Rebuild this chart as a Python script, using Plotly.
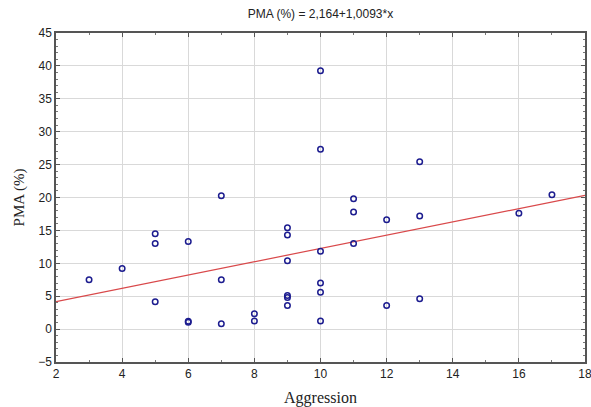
import plotly.graph_objects as go

aggression = [3, 4, 5, 5, 5, 6, 6, 6, 7, 7, 7, 8, 8,
              9, 9, 9, 9, 9, 9, 10, 10, 10, 10, 10, 10,
              11, 11, 11, 12, 12, 13, 13, 13, 16, 17]
pma = [7.5, 9.2, 14.5, 13.0, 4.15, 13.3, 1.2, 1.05, 20.25, 7.5, 0.8, 2.35, 1.25,
       15.4, 14.3, 10.4, 5.1, 4.8, 3.6, 39.25, 27.35, 11.85, 7.0, 5.6, 1.25,
       19.8, 17.8, 13.0, 16.6, 3.6, 25.45, 17.2, 4.6, 17.6, 20.4]
intercept = 2.164
slope = 1.0093
x_range = [2, 18]
y_range = [-5, 45]
title_text = "PMA (%) = 2,164+1,0093*x"

fig = go.Figure()
fig.add_trace(go.Scatter(
    x=x_range, y=[intercept + slope * v for v in x_range],
    mode="lines", line=dict(color="#d9484a", width=1.2), showlegend=False))
fig.add_trace(go.Scatter(
    x=aggression, y=pma, mode="markers",
    marker=dict(symbol="circle-open", size=5.5, color="#1c1c8f", line=dict(width=1.5)),
    showlegend=False))

axis_common = dict(
    showgrid=True, gridcolor="#d9d9d9", gridwidth=1,
    showline=True, linecolor="#555555", linewidth=1.5, mirror="ticks",
    ticks="inside", ticklen=4, tickcolor="#555555",
    tickfont=dict(family="Liberation Sans, Arial", size=12, color="#222222"),
    zeroline=False, automargin=False, ticklabeloverflow="allow",
)

fig.update_xaxes(range=x_range, dtick=2, tick0=2,
                 minor=dict(ticks="inside", ticklen=2, dtick=1, tickcolor="#777777", showgrid=False),
                 title=dict(text="Aggression", font=dict(family="Liberation Serif, Times New Roman", size=16, color="#222222"), standoff=12),
                 **axis_common)
fig.update_yaxes(range=y_range, dtick=5, tick0=0,
                 minor=dict(ticks="inside", ticklen=2, dtick=1, tickcolor="#777777", showgrid=False),
                 title=dict(text="PMA (%)", font=dict(family="Liberation Serif, Times New Roman", size=15, color="#222222"), standoff=10),
                 **axis_common)

fig.update_layout(
    width=591, height=407,
    margin=dict(l=56, r=6, t=33, b=45),
    paper_bgcolor="white", plot_bgcolor="white",
    title=dict(text=title_text, x=(56 + 585) / 2 / 591, xanchor="center", y=1 - 14 / 407, yanchor="middle",
               font=dict(family="Liberation Sans, Arial", size=12, color="#222222")),
)

fig.write_html("out.html")
